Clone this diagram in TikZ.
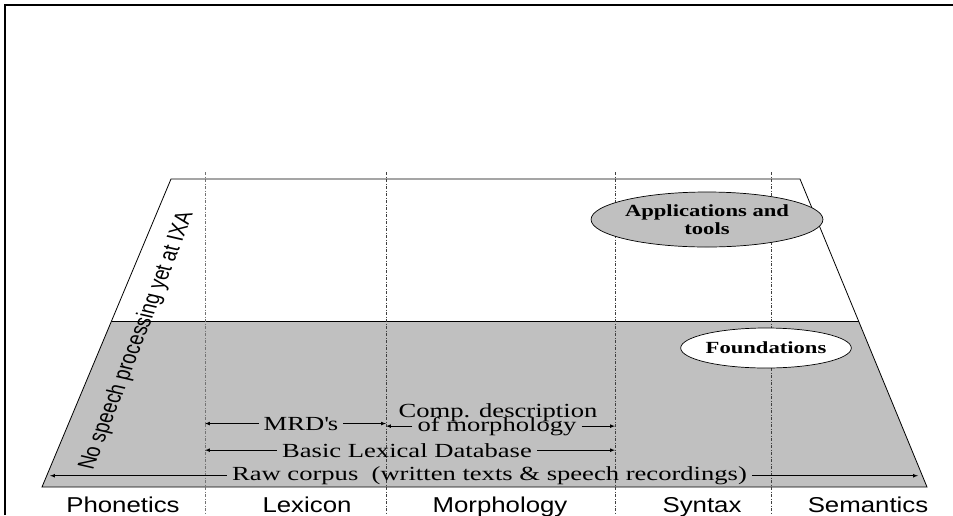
\documentclass[tikz,border=0pt]{standalone}
\usepackage{fontspec}
\setmainfont[FakeStretch=1.33]{Liberation Serif}
\setsansfont[FakeStretch=1.2]{Liberation Sans}
\newfontfamily\plainsf{Liberation Sans}
\usepackage{tikz}
\usetikzlibrary{arrows,shapes.geometric}
\definecolor{fieldgray}{RGB}{192,192,192}

\begin{document}
\begin{tikzpicture}[x=1pt,y=-1pt,
  sep/.style={dash pattern=on 3pt off 1.5pt on 1pt off 1.5pt, black!75, line width=0.7pt},
  field/.style={font=\sffamily\fontsize{21.5}{21.5}\selectfont, anchor=base},
  res/.style={font=\fontsize{20}{20}\selectfont, anchor=base, inner sep=5pt},
  oval/.style={ellipse, draw, line width=0.7pt, inner sep=0pt, align=center, font=\bfseries\fontsize{17}{17.5}\selectfont},
  span/.style={>=latex,->,line width=0.7pt}]
\useasboundingbox (0,0) rectangle (953,515);
%draw [help lines] grid (953,515);
\draw[line width=1.5pt] (5,515) -- (5,5) -- (953,5);

% the two levels
\coordinate (tl) at (171,179);
\coordinate (tr) at (800,179);
\coordinate (ml) at (111.5,321);
\coordinate (mr) at (858.5,321);
\coordinate (bl) at (42,487);
\coordinate (br) at (927,487);
\fill[fieldgray] (ml) -- (mr) -- (br) -- (bl) -- cycle;
\draw[line width=0.8pt] (tl) -- (tr) -- (br) -- (bl) -- cycle;
\draw[line width=0.8pt] (ml) -- (mr);

% borders between fields
\coordinate (s1) at (205,172);
\coordinate (s2) at (386,172);
\coordinate (s3) at (615,172);
\coordinate (s4) at (771,172);
\draw[sep, black!55] (s1) -- +(0,343);
\draw[sep] (s2) -- +(0,343);
\draw[sep] (s3) -- +(0,343);
\draw[sep] (s4) -- +(0,343);

\node[field] (phon) at (123,512) {Phonetics};
\node[field] (lex) at (307,512) {Lexicon};
\node[field] (morph) at (500,512) {Morphology};
\node[field] (syn) at (702,512) {Syntax};
\node[field] (sem) at (868,512) {Semantics};

\begin{scope}[shift={(137,341)}]
\node[xscale=1.3, rotate=73.3, transform shape, font=\plainsf\fontsize{18.5}{18.5}\selectfont] (speech) at (0,0) {No speech processing yet at IXA};
\end{scope}

\node[oval, fill=fieldgray, minimum width=205pt, minimum height=55pt] (apps) at (707,219.5) {Applications and\\tools};
\node[oval, fill=white, minimum width=157pt, minimum height=40pt] (found) at (766,348) {Foundations};

% resources
\node[res] (mrd) at (301,430) {MRD\textquotesingle s};
\node[res] (compA) at (498,417) {Comp. description};
\node[res] (compB) at (497,431) {of morphology};
\node[res] (bld) at (407,457) {Basic Lexical Database};
\node[res] (raw) at (489.5,480.5) {Raw corpus\ \ (written texts \& speech recordings)};
\coordinate (rawL) at (50,475);
\coordinate (rawR) at (918,475);

\draw[span] (mrd.west) -- (mrd.west -| s1);
\draw[span] (mrd.east) -- (mrd.east -| s2);
\draw[span] (compB.west) -- (compB.west -| s2);
\draw[span] (compB.east) -- (compB.east -| s3);
\draw[span] (bld.west) -- (bld.west -| s1);
\draw[span] (bld.east) -- (bld.east -| s3);
\draw[span] (raw.west) -- (raw.west -| rawL);
\draw[span] (raw.east) -- (raw.east -| rawR);

\end{tikzpicture}
\end{document}
